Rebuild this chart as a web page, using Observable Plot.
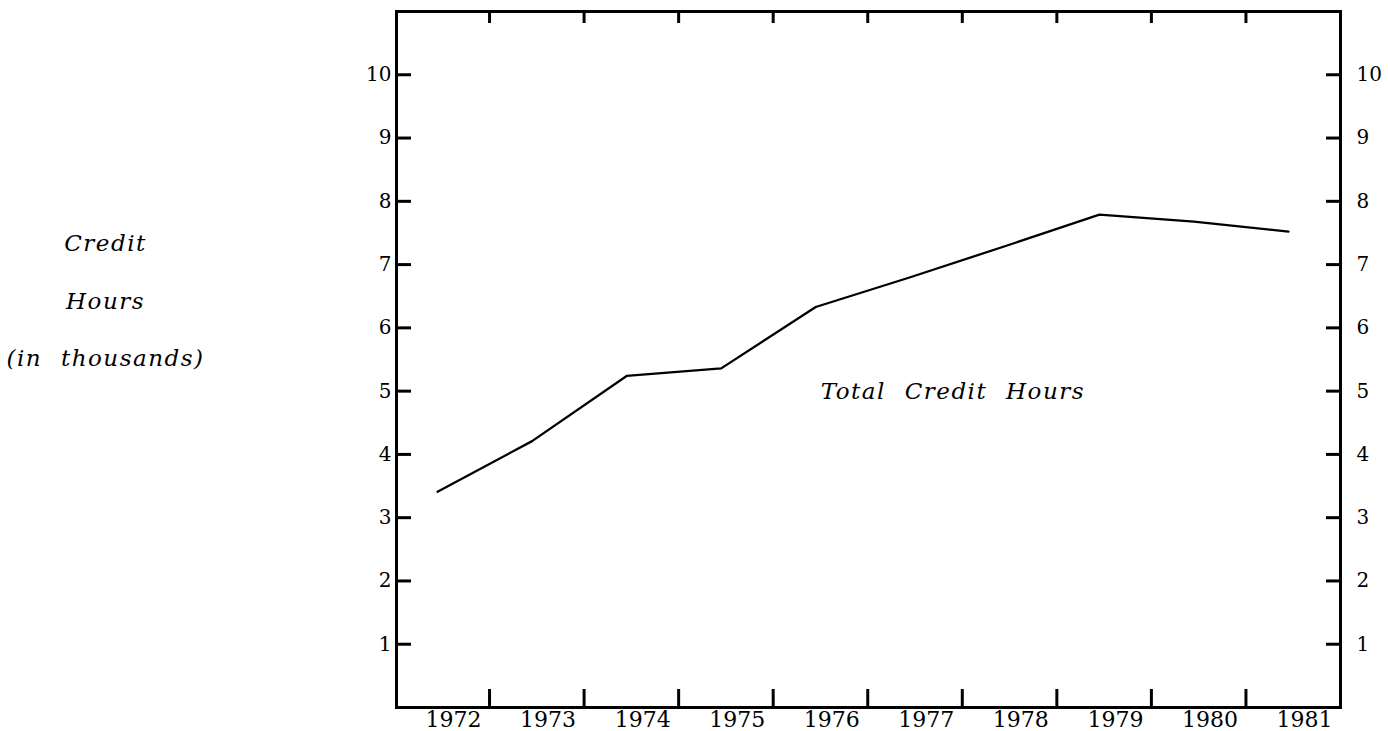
<!DOCTYPE html>
<html><head><meta charset="utf-8">
<script src="https://cdn.jsdelivr.net/npm/d3@7"></script>
<script src="https://cdn.jsdelivr.net/npm/@observablehq/plot@0.6"></script>
<style>body{margin:0;background:#fff} svg{display:block}</style>
</head><body><div id="chart"></div>
<script>
const years = [1972, 1973, 1974, 1975, 1976, 1977, 1978, 1979, 1980, 1981];
const creditHours = [3.41, 4.21, 5.24, 5.36, 6.33, 6.80, 7.29, 7.79, 7.68, 7.52];
const yTicks = [1, 2, 3, 4, 5, 6, 7, 8, 9, 10];
const seriesLabel = "Total Credit Hours";
const axisLabel = "Credit\nHours\n(in thousands)";

const W = 1388, H = 731, mL = 396, mR = 48, mT = 11, mB = 24;
const plotH = H - mT - mB, plotW = W - mL - mR;
const data = years.map((year, i) => ({year, value: creditHours[i]}));
const tickYears = years.slice(0, -1).map(y => y + 0.55);

const chart = Plot.plot({
  width: W, height: H,
  marginLeft: mL, marginRight: mR, marginTop: mT, marginBottom: mB,
  x: {domain: [1971.566, 1981.55], axis: null},
  y: {domain: [0, 11], axis: null},
  style: {fontFamily: "'DejaVu Serif', serif", color: "black", background: "white"},
  marks: [
    Plot.tickX(tickYears, {x: d => d, insetTop: plotH - 18, strokeWidth: 3}),
    Plot.tickX(tickYears, {x: d => d, insetBottom: plotH - 12, strokeWidth: 3}),
    Plot.tickY(yTicks, {y: d => d, insetRight: plotW - 15, strokeWidth: 3}),
    Plot.tickY(yTicks, {y: d => d, insetLeft: plotW - 14, strokeWidth: 3}),
    Plot.axisX(years, {anchor: "bottom", tickSize: 0, tickPadding: 4, tickFormat: d => String(d), dx: 16, fontSize: 22}),
    Plot.axisY(yTicks, {anchor: "left", tickSize: 0, tickPadding: 5, tickFormat: d => String(d), fontSize: 20}),
    Plot.axisY(yTicks, {anchor: "right", tickSize: 0, tickPadding: 16, tickFormat: d => String(d), fontSize: 20}),
    Plot.frame({strokeWidth: 3}),
    Plot.line(data, {x: "year", y: "value", strokeWidth: 2.3}),
    Plot.text([{label: seriesLabel, x: 1977.45, y: 5}], {x: "x", y: "y", text: "label", fontStyle: "italic", fontSize: 23}),
    Plot.text([axisLabel], {frameAnchor: "top-left", dx: -291, dy: 279, textAnchor: "middle", lineAnchor: "middle", lineHeight: 2.5, fontStyle: "italic", fontSize: 23})
  ]
});
d3.select(chart).selectAll('g[font-style="italic"]').style("letter-spacing", "1.5px").style("word-spacing", "10px");
document.getElementById("chart").appendChild(chart);
</script>
</body></html>
